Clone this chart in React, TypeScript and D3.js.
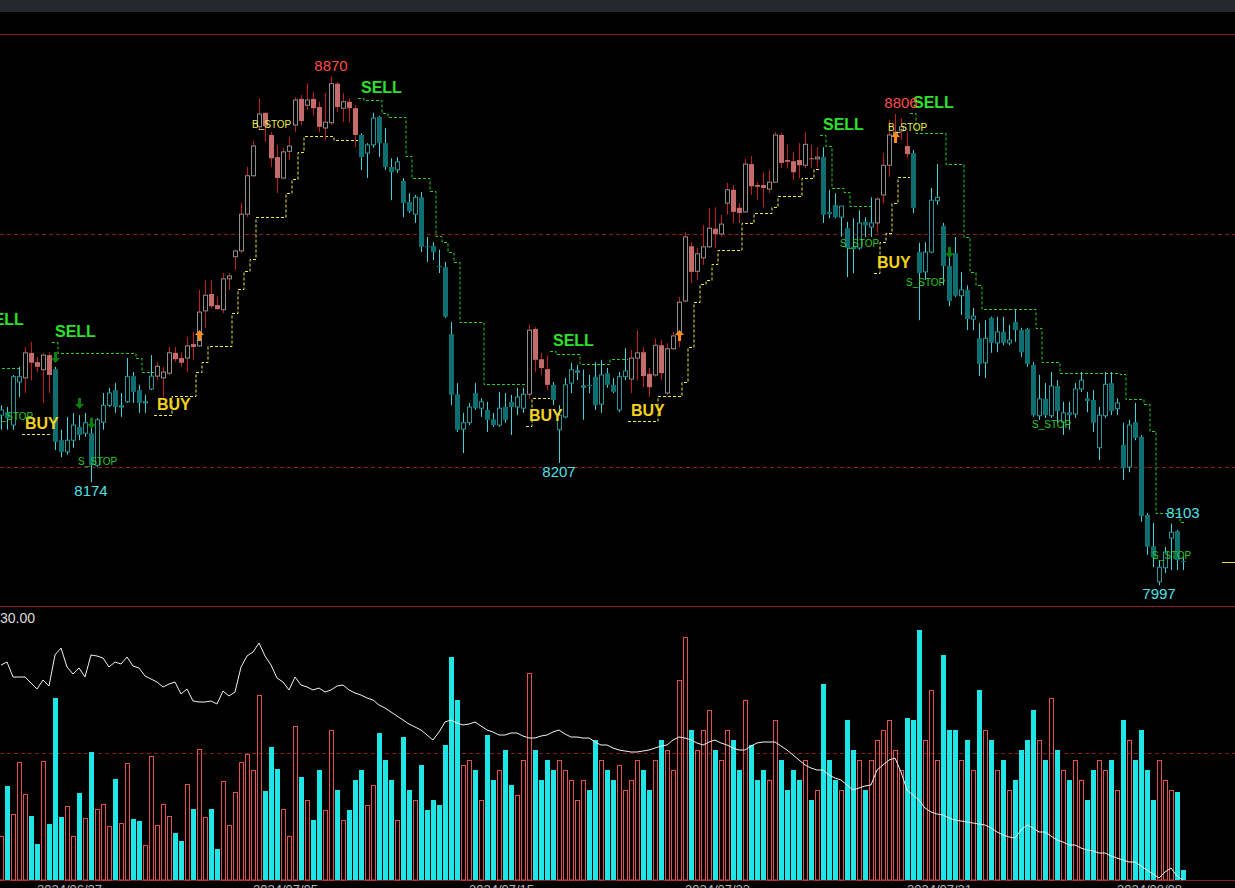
import * as d3 from 'd3';
import React from 'react';

// OHLC, one entry per bar (index 0 = leftmost bar)
const OPEN = [
  8289, 8294, 8272, 8346, 8353, 8396, 8380, 8367, 8392, 8368,
  8246, 8226, 8246, 8269, 8258, 8258, 8203, 8277, 8306, 8332,
  8303, 8312, 8356, 8332, 8310, 8334, 8356, 8353, 8361, 8396,
  8387, 8387, 8411, 8408, 8468, 8497, 8478, 8470, 8523, 8561,
  8571, 8634, 8700, 8784, 8808, 8770, 8732, 8696, 8742, 8787,
  8832, 8821, 8832, 8818, 8782, 8791, 8858, 8816, 8827, 8816,
  8770, 8739, 8753, 8801, 8756, 8715, 8710, 8691, 8655, 8634,
  8663, 8579, 8579, 8545, 8543, 8428, 8325, 8265, 8276, 8327,
  8301, 8298, 8282, 8272, 8303, 8312, 8303, 8301, 8325, 8437,
  8385, 8368, 8341, 8264, 8286, 8344, 8363, 8337, 8341, 8355,
  8308, 8361, 8341, 8298, 8355, 8351, 8387, 8397, 8360, 8358,
  8409, 8327, 8403, 8427, 8485, 8579, 8536, 8559, 8578, 8609,
  8600, 8653, 8676, 8645, 8638, 8720, 8684, 8684, 8677, 8689,
  8770, 8727, 8725, 8727, 8718, 8730, 8729, 8732, 8638, 8650,
  8629, 8610, 8578, 8576, 8621, 8612, 8619, 8667, 8718, 8770,
  8777, 8751, 8739, 8569, 8535, 8569, 8657, 8614, 8545, 8567,
  8494, 8504, 8454, 8421, 8379, 8456, 8413, 8432, 8413, 8449,
  8435, 8437, 8375, 8288, 8317, 8288, 8339, 8277, 8294, 8291,
  8334, 8318, 8315, 8233, 8288, 8344, 8300, 8238, 8200, 8277,
  8252, 8118, 8064, 8003, 8027, 8078, 8090, 8039,
];
const HIGH = [
  8306, 8303, 8358, 8372, 8406, 8415, 8389, 8396, 8397, 8372,
  8264, 8286, 8293, 8289, 8293, 8276, 8284, 8327, 8336, 8344,
  8327, 8387, 8363, 8341, 8324, 8392, 8380, 8372, 8406, 8406,
  8397, 8423, 8432, 8504, 8521, 8521, 8492, 8533, 8533, 8573,
  8653, 8715, 8760, 8833, 8809, 8775, 8753, 8748, 8767, 8835,
  8839, 8859, 8844, 8827, 8842, 8870, 8861, 8842, 8833, 8821,
  8773, 8756, 8808, 8803, 8782, 8730, 8732, 8696, 8670, 8667,
  8672, 8595, 8586, 8573, 8552, 8449, 8344, 8293, 8310, 8344,
  8318, 8312, 8293, 8329, 8327, 8324, 8336, 8336, 8444, 8440,
  8396, 8392, 8346, 8306, 8353, 8379, 8375, 8367, 8358, 8380,
  8384, 8370, 8353, 8363, 8404, 8401, 8435, 8406, 8370, 8421,
  8418, 8413, 8432, 8492, 8603, 8586, 8576, 8615, 8645, 8646,
  8633, 8688, 8684, 8653, 8729, 8734, 8689, 8705, 8710, 8775,
  8773, 8753, 8741, 8756, 8775, 8753, 8749, 8749, 8676, 8670,
  8648, 8621, 8627, 8641, 8629, 8663, 8663, 8739, 8796, 8806,
  8799, 8775, 8744, 8585, 8586, 8679, 8720, 8619, 8561, 8595,
  8535, 8512, 8473, 8447, 8452, 8458, 8458, 8458, 8444, 8470,
  8439, 8439, 8380, 8358, 8344, 8363, 8349, 8312, 8312, 8344,
  8363, 8329, 8332, 8303, 8363, 8363, 8318, 8276, 8281, 8310,
  8255, 8121, 8104, 8040, 8063, 8103, 8092, 8045,
];
const LOW = [
  8264, 8264, 8264, 8320, 8327, 8349, 8363, 8310, 8327, 8229,
  8217, 8221, 8233, 8246, 8252, 8174, 8200, 8264, 8303, 8293,
  8286, 8310, 8310, 8293, 8293, 8332, 8349, 8320, 8358, 8380,
  8372, 8363, 8384, 8406, 8439, 8473, 8470, 8464, 8504, 8538,
  8567, 8629, 8698, 8779, 8758, 8715, 8670, 8694, 8727, 8775,
  8787, 8813, 8804, 8775, 8761, 8787, 8809, 8792, 8792, 8749,
  8710, 8696, 8748, 8732, 8710, 8658, 8705, 8629, 8636, 8619,
  8569, 8552, 8555, 8533, 8456, 8306, 8260, 8224, 8272, 8298,
  8286, 8260, 8269, 8269, 8276, 8255, 8289, 8293, 8318, 8363,
  8358, 8332, 8306, 8207, 8284, 8327, 8349, 8281, 8327, 8298,
  8293, 8336, 8327, 8294, 8349, 8327, 8349, 8337, 8320, 8355,
  8349, 8324, 8401, 8406, 8482, 8516, 8521, 8547, 8576, 8576,
  8595, 8633, 8619, 8619, 8636, 8667, 8658, 8646, 8670, 8688,
  8713, 8713, 8693, 8696, 8713, 8713, 8715, 8619, 8627, 8627,
  8595, 8526, 8533, 8573, 8595, 8595, 8602, 8653, 8698, 8761,
  8761, 8730, 8636, 8452, 8521, 8567, 8650, 8512, 8476, 8492,
  8461, 8435, 8435, 8356, 8353, 8396, 8397, 8409, 8409, 8415,
  8389, 8372, 8286, 8281, 8284, 8284, 8276, 8255, 8264, 8284,
  8329, 8294, 8260, 8212, 8284, 8289, 8289, 8178, 8191, 8246,
  8106, 8049, 8028, 7997, 8018, 8023, 8023, 8023,
];
const CLOSE = [
  8298, 8284, 8355, 8355, 8396, 8379, 8372, 8392, 8358, 8243,
  8226, 8246, 8272, 8255, 8276, 8203, 8281, 8306, 8327, 8303,
  8305, 8355, 8329, 8310, 8312, 8356, 8373, 8363, 8396, 8385,
  8379, 8408, 8406, 8466, 8495, 8476, 8471, 8523, 8528, 8571,
  8634, 8700, 8751, 8806, 8785, 8730, 8696, 8741, 8751, 8830,
  8794, 8830, 8816, 8784, 8792, 8858, 8818, 8827, 8816, 8770,
  8732, 8753, 8799, 8756, 8715, 8706, 8724, 8653, 8639, 8663,
  8578, 8578, 8569, 8543, 8458, 8324, 8264, 8276, 8303, 8301,
  8312, 8281, 8272, 8301, 8281, 8303, 8320, 8325, 8435, 8384,
  8370, 8341, 8315, 8289, 8341, 8367, 8365, 8339, 8339, 8306,
  8358, 8341, 8329, 8355, 8365, 8387, 8396, 8356, 8337, 8409,
  8361, 8403, 8425, 8483, 8595, 8535, 8566, 8578, 8610, 8600,
  8617, 8676, 8638, 8636, 8720, 8682, 8681, 8679, 8689, 8770,
  8722, 8724, 8706, 8718, 8754, 8729, 8732, 8633, 8634, 8629,
  8648, 8576, 8574, 8619, 8615, 8619, 8660, 8718, 8770, 8775,
  8784, 8737, 8645, 8533, 8569, 8658, 8663, 8545, 8485, 8494,
  8504, 8454, 8459, 8377, 8421, 8413, 8432, 8413, 8418, 8435,
  8397, 8377, 8289, 8317, 8289, 8339, 8296, 8293, 8289, 8334,
  8349, 8313, 8276, 8289, 8342, 8296, 8310, 8198, 8272, 8250,
  8116, 8063, 8045, 8028, 8054, 8088, 8040, 8037,
];

const VOLUME = [
  4400, 9400, 6600, 11800, 8600, 6400, 3600, 11900, 5600, 18200,
  6300, 7400, 4400, 8700, 6200, 12800, 7100, 7600, 5400, 10100,
  5700, 11700, 6100, 5900, 3500, 12400, 5500, 7600, 6400, 4700,
  3900, 9600, 7100, 13100, 6300, 7100, 3100, 9900, 5500, 8800,
  11800, 12600, 11000, 18500, 8900, 13300, 11100, 7100, 4400, 15400,
  10300, 8000, 6000, 11000, 7000, 15000, 9000, 6000, 7000, 10000,
  11000, 7500, 9500, 14700, 12000, 10000, 6000, 14300, 9000, 8000,
  11500, 7000, 8000, 7500, 13500, 22300, 18000, 11500, 12000, 11000,
  8000, 14500, 10000, 11000, 13000, 9500, 8500, 12000, 20700, 13000,
  10000, 12000, 11000, 12000, 11000, 10000, 8000, 10000, 9000, 14000,
  12000, 11000, 10000, 11500, 9000, 10000, 12000, 11000, 9000, 12000,
  14000, 13000, 11000, 20000, 24300, 15000, 13000, 15000, 17000, 13000,
  12000, 15000, 14000, 11000, 18000, 13500, 10000, 11000, 10000, 16000,
  12000, 9000, 11000, 10000, 12000, 8000, 9000, 19600, 12000, 10000,
  9000, 16000, 13000, 12000, 9000, 12000, 14000, 15000, 16000, 13000,
  11000, 16200, 16000, 25000, 14000, 19000, 12000, 22500, 15000, 15000,
  12000, 14000, 11000, 19000, 15000, 14000, 11000, 12000, 9000, 10000,
  13000, 14000, 17000, 14000, 12000, 18200, 13000, 11000, 10000, 12000,
  10000, 8000, 11000, 12000, 11000, 12000, 9000, 16000, 14000, 12000,
  15000, 11000, 8000, 12000, 10000, 9000, 8800, 1000,
];

// white line in the lower panel
const OPEN_INT = [
  21500, 21800, 20300, 20300, 20300, 19700, 19100, 20000, 19400, 22500,
  23200, 21300, 20600, 21200, 20300, 22500, 22400, 22200, 21300, 21800,
  21600, 22300, 21400, 21200, 20400, 20100, 19800, 19300, 19600, 19800,
  18600, 19100, 17900, 17800, 17800, 17900, 17600, 18900, 18400, 18800,
  21300, 22400, 22800, 23700, 22400, 21500, 20200, 19800, 19000, 20300,
  19500, 19300, 19000, 19200, 18800, 19000, 19400, 19500, 19000, 18700,
  18500, 18200, 18000, 17500, 17200, 16800, 16400, 16000, 15600, 15300,
  15000, 14500, 14000, 14800, 15800, 16000, 15700, 15500, 15600, 15800,
  15400, 15000, 14800, 14500, 14500, 14700, 14700, 14400, 14200, 14200,
  14400, 14500, 14800, 15000, 14600, 14300, 14300, 14200, 14200, 13800,
  13500, 13500, 13200, 13000, 12900, 12800, 12800, 12900, 13000, 13200,
  13400, 13500, 14000, 14300, 14200, 14000, 13700, 13500, 13800, 14000,
  13700, 13500, 13200, 13000, 13000, 13400, 13700, 13800, 13800, 13800,
  13400, 13000, 12500, 12000, 11500, 11200, 11000, 11000, 10500, 10200,
  10000, 9500, 9000, 9200, 9400, 9500, 11000, 11500, 12000, 12200,
  10800, 9000, 8500, 8000, 7200, 6800, 6600, 6500, 6200, 6000,
  5900, 5800, 5700, 5600, 5500, 5200, 4800, 4500, 4300, 4200,
  5000, 5500, 5200, 4800, 4800, 4400, 4000, 3800, 3500, 3500,
  3200, 3000, 2900, 2700, 2700, 2400, 2200, 2000, 1800, 1800,
  1400, 1000, 600, 200, 800, 1200, 400, 0,
];

// trailing stop, one value per bar from `start`
type Segment = { side: 'buy' | 'sell'; start: number; stops: number[] };
const STOP_SEGMENTS: Segment[] = [
  { side: 'sell', start: -3, stops: [8435, 8400, 8380, 8370, 8370, 8370, 8370] },
  { side: 'buy', start: 4, stops: [8257, 8257, 8257, 8257, 8257] },
  { side: 'sell', start: 9, stops: [8415, 8396, 8396, 8396, 8396, 8396, 8396, 8396, 8396, 8396, 8396, 8396, 8396, 8396, 8387, 8363, 8363] },
  { side: 'buy', start: 26, stops: [8289, 8289, 8289, 8322, 8322, 8322, 8322, 8363, 8380, 8408, 8408, 8408, 8408, 8464, 8506, 8536, 8557, 8629, 8629, 8629, 8629, 8629, 8670, 8694, 8741, 8768, 8768, 8768, 8768, 8768, 8761, 8761, 8761, 8761] },
  { side: 'sell', start: 60, stops: [8833, 8830, 8830, 8830, 8808, 8801, 8801, 8801, 8734, 8696, 8696, 8696, 8674, 8597, 8586, 8569, 8552, 8449, 8449, 8449, 8449, 8342, 8342, 8342, 8342, 8342, 8342, 8342] },
  { side: 'buy', start: 88, stops: [8270, 8318, 8318, 8318] },
  { side: 'sell', start: 92, stops: [8399, 8394, 8394, 8394, 8394, 8377, 8377, 8377, 8377, 8377, 8385, 8385, 8385] },
  { side: 'buy', start: 105, stops: [8279, 8279, 8279, 8279, 8279, 8322, 8322, 8322, 8322, 8346, 8406, 8483, 8514, 8521, 8548, 8573, 8573, 8573, 8573, 8619, 8619, 8636, 8636, 8636, 8646, 8665, 8665, 8665, 8665, 8696, 8696, 8712] },
  { side: 'sell', start: 137, stops: [8770, 8751, 8679, 8679, 8672, 8648, 8648, 8648, 8648] },
  { side: 'buy', start: 146, stops: [8533, 8586, 8602, 8653, 8698, 8698] },
  { side: 'sell', start: 152, stops: [8808, 8773, 8773, 8773, 8773, 8773, 8720, 8720, 8720, 8595, 8535, 8512, 8471, 8471, 8471, 8471, 8471, 8471, 8471, 8471, 8471, 8439, 8380, 8380, 8380, 8361, 8361, 8361, 8361, 8361, 8361, 8361, 8361, 8361, 8361, 8360, 8317, 8317, 8317, 8308, 8262, 8121, 8121, 8121, 8121, 8106] },
];

const STOP_TAGS = [
  { k: -1, price: 8281, side: 'sell' },
  { k: 13, price: 8203, side: 'sell' },
  { k: 42, price: 8782, side: 'buy' },
  { k: 140, price: 8578, side: 'sell' },
  { k: 148, price: 8777, side: 'buy' },
  { k: 151, price: 8511, side: 'sell' },
  { k: 172, price: 8267, side: 'sell' },
  { k: 192, price: 8042, side: 'sell' },
];

const ARROWS = [
  { k: 33, price: 8425, dir: 'up' },
  { k: 113, price: 8425, dir: 'up' },
  { k: 149, price: 8765, dir: 'up' },
  { k: 9, price: 8389, dir: 'down' },
  { k: 13, price: 8310, dir: 'down' },
  { k: 15, price: 8276, dir: 'down' },
  { k: 158, price: 8569, dir: 'down' },
];

const PEAKS = [
  { k: 55, price: 8870, kind: 'high' },
  { k: 150, price: 8806, kind: 'high' },
  { k: 197, price: 8103, kind: 'high' },
  { k: 15, price: 8174, kind: 'low' },
  { k: 93, price: 8207, kind: 'low' },
  { k: 193, price: 7997, kind: 'low' },
];

const DATES = [
  { k: 6, label: '2024/06/27' },
  { k: 42, label: '2024/07/05' },
  { k: 78, label: '2024/07/15' },
  { k: 114, label: '2024/07/23' },
  { k: 151, label: '2024/07/31' },
  { k: 186, label: '2024/08/08' },
];

const GRID_PRICES = [8200, 8600];
const VOLUME_GRID = 12700;

const W = 1235;
const H = 888;
const FONT = "'Liberation Sans', Arial, sans-serif";

const COLORS = {
  frame: '#8c1f1f',
  buyUp: '#8e8e8e',
  buyDown: '#c46c6c',
  buyWick: '#c41c1c',
  sellUp: '#2a9496',
  sellDown: '#0f6e70',
  sellWick: '#44d2da',
  volUp: '#e4504f',
  volDown: '#1ee6e6',
  green: '#2ee02e',
  yellow: '#f2d21b',
  stopGreen: '#2cc82c',
  stopYellow: '#ecec48',
};

const App: React.FC = () => {
  const n = CLOSE.length;
  const x = d3.scaleLinear().domain([0, n - 1]).range([1, 1183]);
  const y = d3.scaleLinear().domain([8200, 8600]).range([467, 234]);
  const yVol = d3.scaleLinear().domain([0, 10000]).range([880, 780]);
  const yOI = d3.scaleLinear().domain([0, 10000]).range([880, 780]);

  // which side each bar belongs to
  const side: string[] = new Array(n).fill('sell');
  STOP_SEGMENTS.forEach(s => {
    s.stops.forEach((_, i) => {
      const k = s.start + i;
      if (k >= 0 && k < n) side[k] = s.side;
    });
  });

  const stepLine = d3.line<[number, number]>();
  const oiLine = d3.line<number>().x((_, i) => x(i)).y(d => yOI(d));

  const arrowPath = (cx: number, cy: number, dir: string) => {
    const s = dir === 'up' ? 1 : -1;
    return `M${cx},${cy - 6 * s} L${cx + 4.5},${cy - 1 * s} L${cx + 1.5},${cy - 1 * s} L${cx + 1.5},${cy + 5 * s} L${cx - 1.5},${cy + 5 * s} L${cx - 1.5},${cy - 1 * s} L${cx - 4.5},${cy - 1 * s} Z`;
  };

  return (
    <svg
      width={W}
      height={H}
      style={{ position: 'absolute', left: 0, top: 0, display: 'block', background: '#000' }}
    >
      <rect width={W} height={H} fill="#000" />
      <rect width={W} height={12} fill="#25272c" />

      {/* frame lines */}
      <line x1={0} x2={W} y1={34.5} y2={34.5} stroke={COLORS.frame} />
      <line x1={0} x2={W} y1={606.5} y2={606.5} stroke={COLORS.frame} />
      <line x1={0} x2={W} y1={880.5} y2={880.5} stroke={COLORS.frame} />
      {GRID_PRICES.map(p => (
        <line key={p} x1={0} x2={W} y1={Math.round(y(p)) + 0.5} y2={Math.round(y(p)) + 0.5}
          stroke={COLORS.frame} strokeDasharray="4,3" />
      ))}
      <line x1={0} x2={W} y1={Math.round(yVol(VOLUME_GRID)) + 0.5} y2={Math.round(yVol(VOLUME_GRID)) + 0.5}
        stroke={COLORS.frame} strokeDasharray="4,3" />

      {/* volume */}
      {VOLUME.map((v, i) => {
        const up = CLOSE[i] >= OPEN[i];
        const cx = x(i);
        const top = yVol(v);
        return up ? (
          <rect key={i} x={cx - 1.5} y={top + 0.5} width={4} height={Math.max(0, 880 - top - 0.5)}
            fill="none" stroke={COLORS.volUp} />
        ) : (
          <rect key={i} x={cx - 2} y={top} width={5} height={880 - top} fill={COLORS.volDown} />
        );
      })}
      <path d={oiLine(OPEN_INT) || ''} fill="none" stroke="#f2f2f2" strokeWidth={1} />
      <text x={0} y={623} fill="#dcdcdc" fontFamily={FONT} fontSize={14}>30.00</text>

      {/* stop lines */}
      {STOP_SEGMENTS.map((s, si) => {
        const pts: [number, number][] = [];
        s.stops.forEach((p, i) => {
          const cx = x(s.start + i);
          const yy = Math.round(y(p)) + 0.5;
          pts.push([cx - 3, yy], [cx + 3, yy]);
        });
        return (
          <path key={si} d={stepLine(pts) || ''} fill="none"
            stroke={s.side === 'sell' ? COLORS.stopGreen : COLORS.stopYellow}
            strokeWidth={1} strokeDasharray="3,2" />
        );
      })}

      {/* candles */}
      {CLOSE.map((c, i) => {
        const o = OPEN[i];
        const cx = x(i);
        const wx = cx + 0.5;
        const buy = side[i] === 'buy';
        const up = c >= o;
        const top = y(Math.max(o, c));
        const bot = y(Math.min(o, c));
        const h = Math.max(1, bot - top);
        return (
          <g key={i}>
            <line x1={wx} x2={wx} y1={y(HIGH[i])} y2={y(LOW[i])}
              stroke={buy ? COLORS.buyWick : COLORS.sellWick} />
            {up ? (
              <rect x={cx - 1.5} y={top} width={4} height={h} fill="#000"
                stroke={buy ? COLORS.buyUp : COLORS.sellUp} />
            ) : (
              <rect x={cx - 2} y={top} width={5} height={h}
                fill={buy ? COLORS.buyDown : COLORS.sellDown} />
            )}
          </g>
        );
      })}

      {/* signal labels */}
      {STOP_SEGMENTS.map((s, si) => (
        <text key={si} x={x(s.start)} y={y(s.stops[0]) - 5}
          fill={s.side === 'sell' ? COLORS.green : COLORS.yellow}
          fontFamily={FONT} fontSize={16} fontWeight="bold">
          {s.side === 'sell' ? 'SELL' : 'BUY'}
        </text>
      ))}

      {STOP_TAGS.map((t, i) => (
        <text key={i} x={x(t.k) - 1} y={y(t.price)}
          fill={t.side === 'sell' ? COLORS.stopGreen : COLORS.stopYellow}
          fontFamily={FONT} fontSize={10}>
          {t.side === 'sell' ? 'S_STOP' : 'B_STOP'}
        </text>
      ))}

      {ARROWS.map((a, i) => (
        <path key={i} d={arrowPath(x(a.k) + 0.5, y(a.price), a.dir)}
          fill={a.dir === 'up' ? '#ff8c1a' : '#0b7d0b'} />
      ))}

      {PEAKS.map((p, i) => (
        <text key={i} x={x(p.k)} y={p.kind === 'high' ? y(p.price) - 6 : y(p.price) + 14}
          textAnchor="middle" fill={p.kind === 'high' && p.price > 8500 ? '#ff4c4c' : '#4fe0e6'}
          fontFamily={FONT} fontSize={15}>
          {p.price}
        </text>
      ))}

      {/* last price marker */}
      <line x1={1222} x2={W} y1={Math.round(y(CLOSE[n - 1])) + 0.5} y2={Math.round(y(CLOSE[n - 1])) + 0.5}
        stroke="#e0e040" />

      {DATES.map(d => (
        <text key={d.label} x={x(d.k)} y={894} fill="#b4b4b4" fontFamily={FONT} fontSize={13}>
          {d.label}
        </text>
      ))}
    </svg>
  );
};

export default App;
